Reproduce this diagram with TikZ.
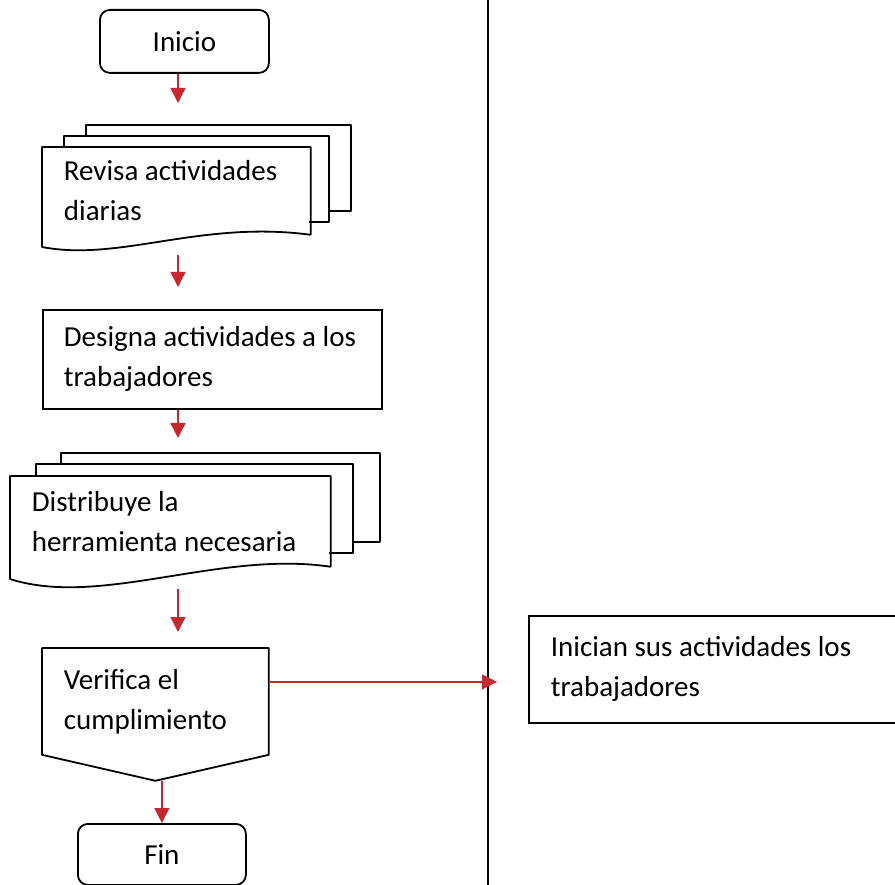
\documentclass[tikz,border=0pt]{standalone}
\usepackage{fontspec}
\setmainfont{Carlito}
\usepackage{tikz}
\usetikzlibrary{arrows.meta,calc}
\definecolor{rojo}{RGB}{196,40,48}
\tikzset{
  flecha/.style={draw=rojo,line width=1.4pt,-{Triangle[length=15pt,width=15pt]}}}
\tikzset{
  caja/.style={draw,line width=1.8pt,align=flush left,anchor=north west,
    inner xsep=21pt,inner ysep=0pt,font=\fontsize{29}{40}\selectfont}}
\tikzset{
  terminal/.style={caja,rounded corners=10pt,align=center,inner xsep=0pt}}
\tikzset{
  hoja/.style={line width=1.8pt,line join=round}}

\begin{document}
\begin{tikzpicture}[x=1pt,y=-1pt]
    \useasboundingbox (0,0) rectangle (895,885);
    \coordinate (eje) at (178,0);
    \coordinate (carril) at (488,0);
    \draw[line width=2pt] (carril) -- (488,885);
    % nodos
    \node[terminal,minimum width=169pt,minimum height=63pt] (inicio) at (99,9) {Inicio};
    \node[caja,draw=none,text width=225pt,minimum height=86pt] (revisa) at (42,147) {Revisa actividades\\diarias};
    \node[caja,text width=297pt,minimum height=99pt] (designa) at (42,309) {Designa actividades a los\\trabajadores};
    \node[caja,draw=none,text width=277pt,inner xsep=21pt,minimum height=89pt] (distribuye) at (10,476) {Distribuye la\\herramienta necesaria};
    \node[caja,draw=none,text width=183pt,minimum height=105pt] (verifica) at (42,648) {Verifica el\\cumplimiento};
    \node[terminal,minimum width=168pt,minimum height=61pt] (fin) at (77,823) {Fin};
    \node[caja,text width=324pt,inner xsep=22pt,minimum height=107pt] (inician) at (528,615) {Inician sus actividades los\\trabajadores};
    \coordinate (punta) at ($(verifica.south)+(0,26)$);
    % hojas
    \draw[hoja] (64,147) -- (64,136) -- (329,136) -- (329,222) -- (309,222);
    \draw[hoja] (86,136) -- (86,125) -- (351,125) -- (351,211) -- (329,211);
    \draw[hoja] (revisa.south east) -- (revisa.north east) -- (revisa.north west) -- (42,247)
        .. controls (120,262) and (200,220) .. (revisa.south east);
    \draw[hoja] (36,476) -- (36,464) -- (353,464) -- (353,553) -- (329,553);
    \draw[hoja] (61,464) -- (61,453) -- (380,453) -- (380,542) -- (353,542);
    \draw[hoja] (distribuye.south east) -- (distribuye.north east) -- (distribuye.north west) -- (10,579)
        .. controls (100,608) and (220,550) .. (distribuye.south east);
    \draw[hoja] (verifica.south west) -- (verifica.north west) -- (verifica.north east)
        -- (verifica.south east) -- (punta) -- cycle;
    % flechas
    \draw[flecha,shorten >=44pt] (inicio.south -| eje) -- (revisa.north -| eje);
    \draw[flecha,shorten <=20pt,shorten >=22pt] (revisa.south -| eje) -- (designa.north -| eje);
    \draw[flecha,shorten >=38pt] (designa.south -| eje) -- (distribuye.north -| eje);
    \draw[flecha,shorten <=22pt,shorten >=16pt] (distribuye.south -| eje) -- (verifica.north -| eje);
    \draw[flecha] (fin.north |- punta) -- (fin.north);
    \draw[flecha,shorten >=-9pt] ([yshift=19.5pt]verifica.east) -- ([yshift=19.5pt]verifica.east -| carril);
\end{tikzpicture}
\end{document}
